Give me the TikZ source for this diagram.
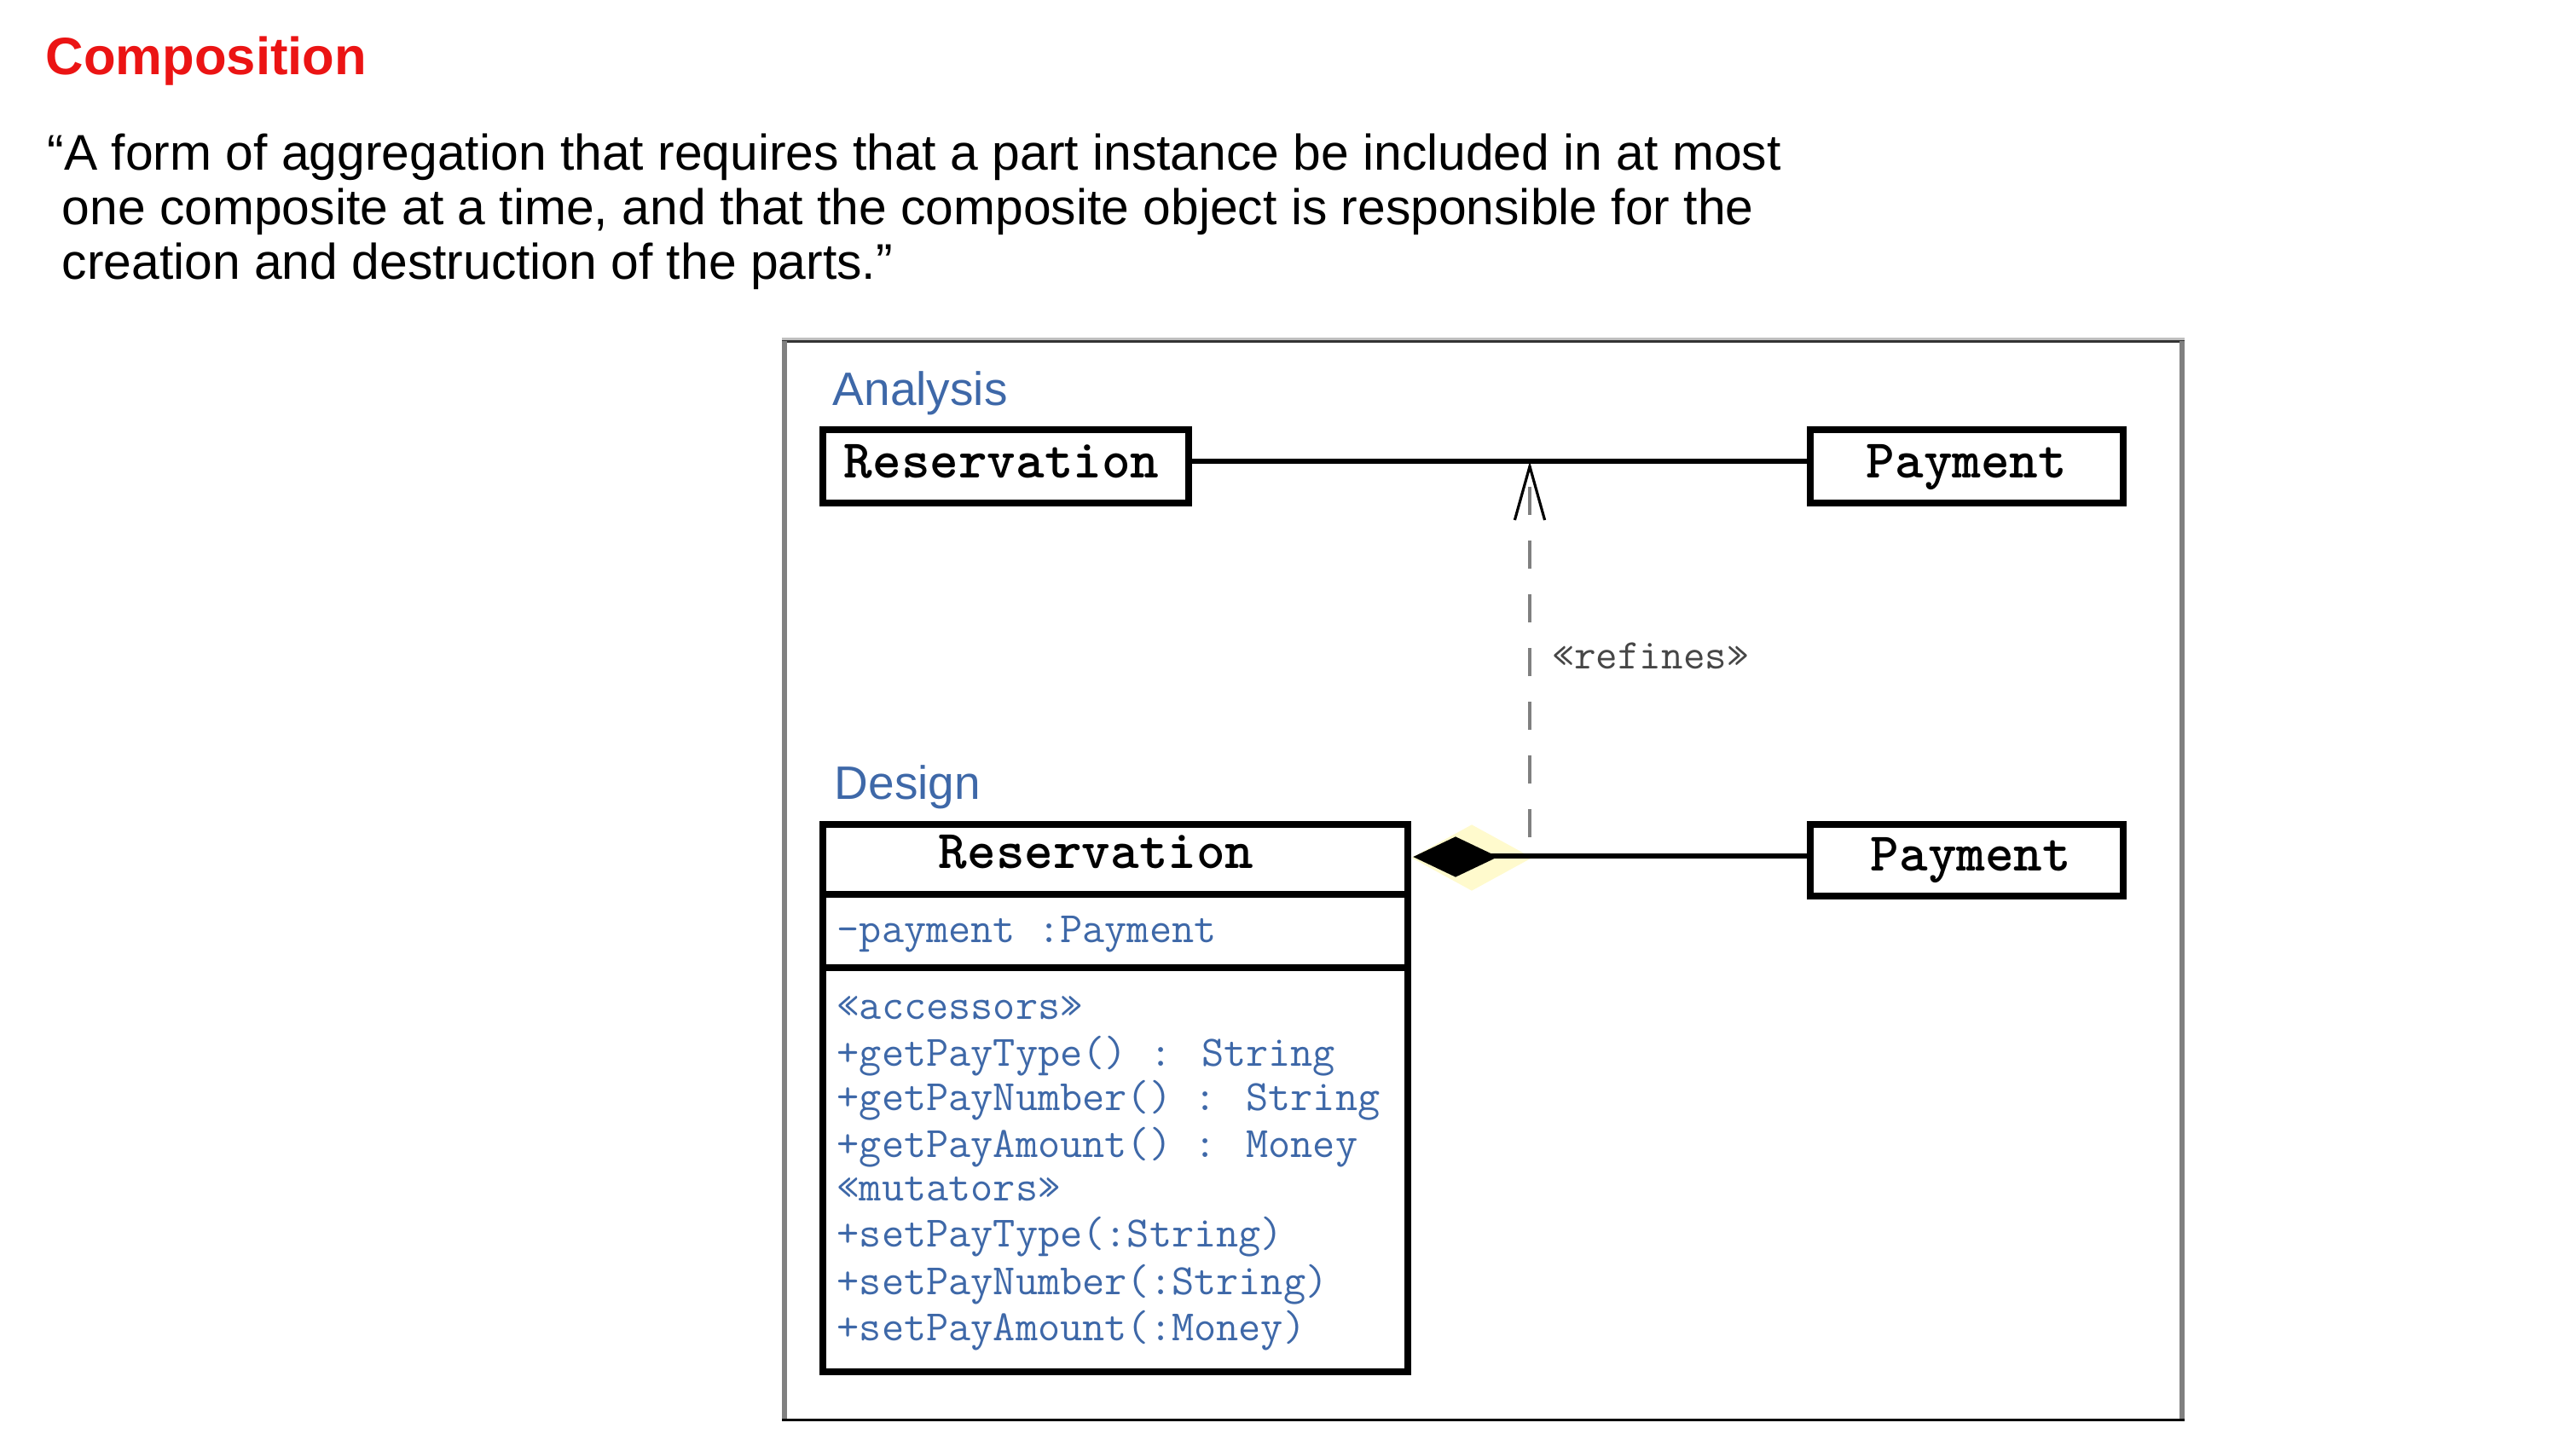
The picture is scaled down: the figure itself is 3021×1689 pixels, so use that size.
\documentclass[tikz,border=0pt]{standalone}
\usepackage{fontspec}
\setmainfont{Liberation Sans}
\usetikzlibrary{shapes.geometric}
\definecolor{umlblue}{RGB}{62,104,168}
\definecolor{titlered}{RGB}{235,20,20}
\definecolor{glowyellow}{RGB}{255,250,205}
\definecolor{refgray}{RGB}{70,70,70}
\begin{document}
\begin{tikzpicture}[x=0.25pt,y=-0.25pt,
  box/.style={draw=black, line width=2pt, inner sep=0pt, anchor=north west},
  hdr/.style={font=\fontsize{16}{16}\selectfont\ttfamily\bfseries, anchor=base west, inner sep=0pt},
  mono/.style={font=\fontsize{12.7}{12.7}\selectfont\ttfamily, text=umlblue, anchor=base west, inner sep=0pt},
  sect/.style={font=\fontsize{13.75}{13.75}\selectfont, text=umlblue, anchor=base west, inner sep=0pt},
  quote/.style={font=\fontsize{14.7}{14.7}\selectfont, anchor=base west, inner sep=0pt},
  assoc/.style={draw=black, line width=1.6pt},
]
\useasboundingbox (0,0) rectangle (3021,1689);

% title and quote
\node[anchor=base west, inner sep=0pt, font=\fontsize{15.4}{15.4}\selectfont\bfseries, text=titlered] (title) at (53,88) {Composition};
\node[quote] (q1) at (55,200) {“A form of aggregation that requires that a part instance be included in at most};
\node[quote] (q2) at (72,264) {one composite at a time, and that the composite object is responsible for the};
\node[quote] (q3) at (72,328) {creation and destruction of the parts.”};

% frame
\draw[line width=0.75pt, black!25] (917,397.5) -- (2562,397.5);
\draw[line width=0.75pt, black!80] (917,400.5) -- (2562,400.5);
\draw[line width=1.5pt, black!50] (920,400) -- (920,1667);
\draw[line width=1.5pt, black!50] (2559,400) -- (2559,1667);
\draw[line width=0.75pt, black] (917,1665.5) -- (2562,1665.5);

% section labels
\node[sect] (lana) at (976,476) {Analysis};
\node[sect] (ldes) at (978,937) {Design};

% analysis classes
\node[box, minimum width=107.25pt, minimum height=21.5pt] (ar) at (960.5,500.5) {};
\node[box, minimum width=91.75pt, minimum height=21.5pt] (ap) at (2118.5,500.5) {};
\node[hdr] (art) at (989,561) {Reservation};
\node[hdr] (apt) at (2188,561) {Payment};
\draw[assoc] ([yshift=1.6pt]ar.east) -- ([yshift=1.6pt]ar.east -| ap.west);

% design classes
\node[box, minimum width=171.5pt, minimum height=20.5pt] (drn) at (961,963) {};
\node[box, minimum width=171.5pt, minimum height=21.5pt] (dra) at (961,1045) {};
\node[box, minimum width=171.5pt, minimum height=118.5pt] (drm) at (961,1131) {};
\node[box, minimum width=91.75pt, minimum height=21pt] (dp) at (2118.5,962.5) {};
\node[hdr] (drt) at (1100,1018) {Reservation};
\node[hdr] (dpt) at (2193,1021) {Payment};
\node[mono] (attr) at (981,1105) {-payment :Payment};
\node[mono] (m1) at (981,1195) {«accessors»};
\node[mono] (m2) at (981,1250) {+getPayType() : String};
\node[mono] (m3) at (981,1302) {+getPayNumber() : String};
\node[mono] (m4) at (981,1357) {+getPayAmount() : Money};
\node[mono] (m5) at (981,1408) {«mutators»};
\node[mono] (m6) at (981,1462) {+setPayType(:String)};
\node[mono] (m7) at (981,1518) {+setPayNumber(:String)};
\node[mono] (m8) at (981,1572) {+setPayAmount(:Money)};

% composition
\node[diamond, fill=glowyellow, minimum width=35.5pt, minimum height=19.5pt, inner sep=0pt] (glow) at (1726,1006) {};
\draw[assoc] (1707,1004) -- (1707,1004 -| dp.west);
\node[diamond, fill=black, minimum width=25pt, minimum height=12pt, inner sep=0pt] (dia) at (1707,1005) {};

% refines dependency
\coordinate (rs) at (1794,982);
\coordinate (rt) at (1794,547);
\draw[black!50, line width=0.85pt, dash pattern=on 8.25pt off 7.5pt] (rs) -- (rt);
\draw[black, line width=0.8pt] ([xshift=-4.4pt,yshift=-15.75pt]rt) -- (rt) -- ([xshift=4.4pt,yshift=-15.75pt]rt);
\node[anchor=base west, inner sep=0pt, font=\fontsize{12.4}{12.4}\selectfont\ttfamily, text=refgray] (reflbl) at (1820,785) {«refines»};
\end{tikzpicture}
\end{document}
